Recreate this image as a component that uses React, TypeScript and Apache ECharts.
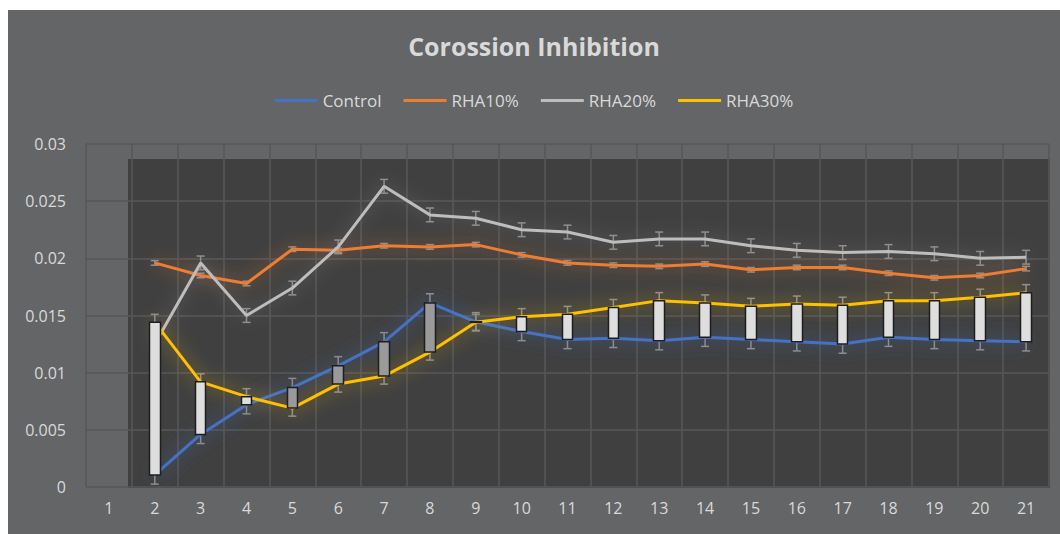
import React, { useEffect, useRef } from "react";
import * as echarts from "echarts";

const categories = ["1","2","3","4","5","6","7","8","9","10","11","12","13","14","15","16","17","18","19","20","21"];
const seriesNames = ["Control", "RHA10%", "RHA20%", "RHA30%"];
const control = [null, 0.00105, 0.0046, 0.0072, 0.0087, 0.0106, 0.0127, 0.0161, 0.01445, 0.0136, 0.0129, 0.0130, 0.0128, 0.0131, 0.0129, 0.0127, 0.0125, 0.0131, 0.0129, 0.0128, 0.0127];
const rha10 = [null, 0.0196, 0.0185, 0.0178, 0.0208, 0.0207, 0.0211, 0.0210, 0.0212, 0.0203, 0.0196, 0.0194, 0.0193, 0.0195, 0.0190, 0.0192, 0.0192, 0.0187, 0.0183, 0.0185, 0.0191];
const rha20 = [null, 0.0125, 0.0196, 0.0150, 0.0174, 0.0210, 0.0263, 0.0238, 0.0235, 0.0225, 0.0223, 0.0214, 0.0217, 0.0217, 0.0211, 0.0207, 0.0205, 0.0206, 0.0204, 0.0200, 0.0201];
const rha30 = [null, 0.0144, 0.0092, 0.0079, 0.0069, 0.0090, 0.0097, 0.0118, 0.0144, 0.0149, 0.0151, 0.0157, 0.0163, 0.0161, 0.0158, 0.0160, 0.0159, 0.0163, 0.0163, 0.0166, 0.0170];
// error amounts (standard error) per series
const errors = [0.0008, 0.0002, 0.0006, 0.0007];

const colors = ["#4472C4", "#ED7D31", "#BDBDBD", "#FFC000"];
const glows = ["rgba(68,114,196,0.8)", "rgba(237,125,49,0.7)", "rgba(150,150,150,0.6)", "rgba(255,192,0,0.7)"];
const TEXT = "#d9d9d9";
const FONT = "'Open Sans', 'Noto Sans', sans-serif";

export default function App() {
  const ref = useRef<HTMLDivElement>(null);
  useEffect(() => {
    if (!ref.current) return;
    const chart = echarts.init(ref.current, null, { renderer: "svg" });
    const allSeries = [control, rha10, rha20, rha30];

    const errorSeries = allSeries.map((vals, si) => ({
      type: "custom",
      name: "err" + si,
      z: 1,
      silent: true,
      data: vals
        .map((v, i) => (v == null ? null : [i, v, errors[si]]))
        .filter((d) => d != null),
      renderItem: (params: any, api: any) => {
        const x = api.value(0);
        const v = api.value(1);
        const e = api.value(2);
        const top = api.coord([x, v + e]);
        const bot = api.coord([x, v - e]);
        const hw = 4;
        const st = { stroke: "#8f8f8f", lineWidth: 1.5 };
        return {
          type: "group",
          children: [
            { type: "line", shape: { x1: top[0], y1: top[1], x2: bot[0], y2: bot[1] }, style: st },
            { type: "line", shape: { x1: top[0] - hw, y1: top[1], x2: top[0] + hw, y2: top[1] }, style: st },
            { type: "line", shape: { x1: bot[0] - hw, y1: bot[1], x2: bot[0] + hw, y2: bot[1] }, style: st },
          ],
        };
      },
    }));

    const lineSeries = allSeries.map((vals, si) => ({
      type: "line",
      name: seriesNames[si],
      z: 3,
      data: vals.map((v) => (v == null ? "-" : v)),
      showSymbol: false,
      symbol: "none",
      color: colors[si],
      lineStyle: {
        width: 3,
        color: colors[si],
        shadowBlur: 18,
        shadowColor: glows[si],
      },
    }));

    const candleData = control.map((c, i) => {
      const r = rha30[i];
      if (c == null || r == null) return "-";
      return [c, r, Math.min(c, r), Math.max(c, r)];
    });

    chart.setOption({
      animation: false,
      backgroundColor: "#646567",
      title: {
        text: "Corossion Inhibition",
        left: "center",
        top: 18,
        textStyle: { color: TEXT, fontFamily: FONT, fontWeight: "bold", fontSize: 25 },
      },
      legend: {
        data: seriesNames,
        top: 77,
        left: "center",
        icon: "rect",
        itemWidth: 43,
        itemHeight: 3,
        itemGap: 22,
        textStyle: { color: TEXT, fontFamily: FONT, fontSize: 17 },
      },
      graphic: [
        {
          type: "rect",
          z: -10,
          silent: true,
          shape: { x: 120, y: 149, width: 922, height: 329 },
          style: { fill: "#404040" },
        },
      ],
      grid: { left: 78, right: 11, top: 134, bottom: 47, containLabel: false },
      xAxis: {
        type: "category",
        data: categories,
        boundaryGap: true,
        axisLine: { show: false },
        axisTick: { show: false },
        axisLabel: { color: TEXT, fontFamily: FONT, fontSize: 16, margin: 13 },
        splitLine: { show: true, lineStyle: { color: "#575757", width: 1.5 } },
      },
      yAxis: {
        type: "value",
        min: 0,
        max: 0.03,
        interval: 0.005,
        axisLine: { show: false },
        axisTick: { show: false },
        axisLabel: { color: TEXT, fontFamily: FONT, fontSize: 16, margin: 20 },
        splitLine: { show: true, lineStyle: { color: "#575757", width: 1.5 } },
      },
      series: [
        ...errorSeries,
        ...lineSeries,
        {
          type: "candlestick",
          name: "updown",
          z: 5,
          silent: true,
          barWidth: 11,
          data: candleData,
          itemStyle: {
            color: "#dedede",
            color0: "#9a9a9a",
            borderColor: "#1e1e1e",
            borderColor0: "#1e1e1e",
            borderWidth: 1.5,
          },
        },
      ],
    });
    return () => chart.dispose();
  }, []);
  return (
    <div
      ref={ref}
      style={{ position: "absolute", left: 8, top: 10, width: 1052, height: 524 }}
    />
  );
}
